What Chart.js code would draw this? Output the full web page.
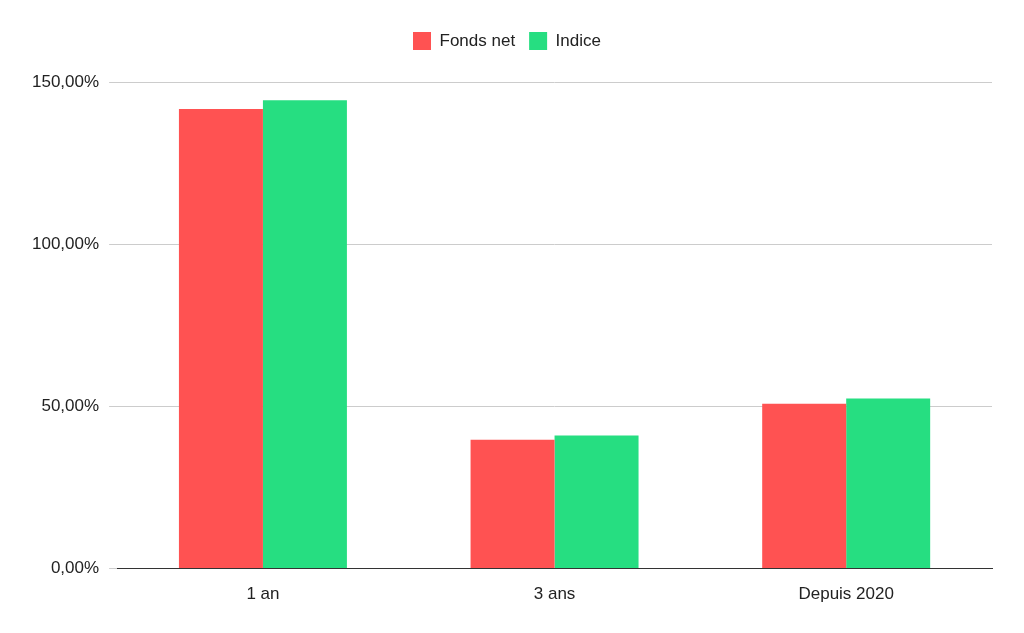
<!DOCTYPE html>
<html><head><meta charset="utf-8">
<script src="https://cdn.jsdelivr.net/npm/chart.js@4"></script>
<style>html,body{margin:0;padding:0;background:#fff}#w{width:1024px;height:633px}</style>
</head><body><div id="w"><canvas id="c"></canvas></div>
<script>
const categories = ["1 an", "3 ans", "Depuis 2020"];
const fondsNet = [141.7, 39.7, 50.8];
const indice = [144.4, 41.0, 52.4];
const yTicks = [0, 50, 100, 150];
Chart.defaults.font.family = "'Liberation Sans', Arial, sans-serif";
Chart.defaults.font.size = 17;
Chart.defaults.color = '#222';
const legendPad = { id: 'legendPad', beforeInit(chart) {
  const f = chart.legend.fit;
  chart.legend.fit = function () { f.bind(chart.legend)(); this.height += 22; };
}};
new Chart(document.getElementById('c'), {
  type: 'bar',
  data: { labels: categories, datasets: [
    { label: 'Fonds net', data: fondsNet, backgroundColor: '#FF5252' },
    { label: 'Indice', data: indice, backgroundColor: '#26DE81' }
  ]},
  plugins: [legendPad],
  options: {
    responsive: true, maintainAspectRatio: false, animation: false,
    layout: { padding: { left: 22, right: 32, top: 18, bottom: 20 } },
    datasets: { bar: { barPercentage: 1, categoryPercentage: 0.576 } },
    plugins: {
      legend: { position: 'top', labels: { boxWidth: 18, boxHeight: 18, padding: 14, color: '#222' } },
      tooltip: { enabled: false }
    },
    scales: {
      x: { grid: { display: false }, border: { color: '#333' }, ticks: { padding: 8 } },
      y: { min: 0, max: 150,
        afterBuildTicks: s => { s.ticks = yTicks.map(v => ({ value: v })); },
        grid: { color: '#ccc' }, border: { display: false },
        ticks: { padding: 10, callback: v => v.toFixed(2).replace('.', ',') + '%' } }
    }
  }
});
</script></body></html>
